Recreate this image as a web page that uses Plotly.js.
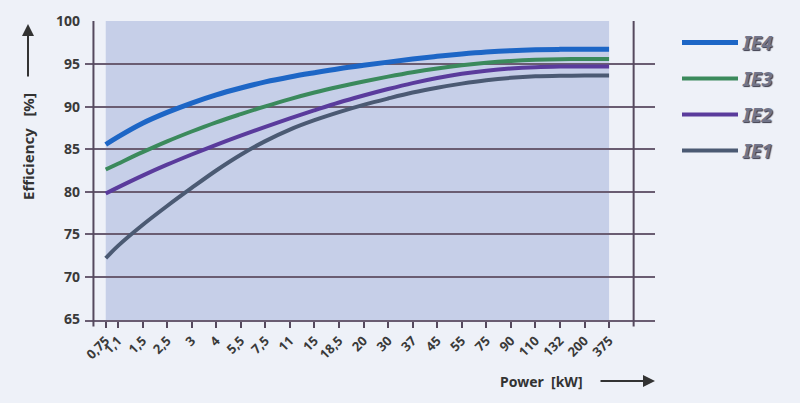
<!DOCTYPE html>
<html>
<head>
<meta charset="utf-8">
<script src="https://cdn.plot.ly/plotly-3.0.1.min.js"></script>
<style>
html,body{margin:0;padding:0;background:#eef1f8;}
#chart{width:800px;height:403px;}
</style>
</head>
<body>
<div id="chart"></div>
<script>
// Power ratings (kW) shown on the x axis
const categories = ['0,75','1,1','1,5','2,5','3','4','5,5','7,5','11','15','18,5','20','30','37','45','55','75','90','110','132','200','375'];
// Efficiency [%] per class at each power rating
const ie4 = [85.55, 86.45, 88.05, 89.32, 90.42, 91.38, 92.18, 92.9, 93.48, 93.98, 94.45, 94.85, 95.22, 95.58, 95.9, 96.17, 96.4, 96.57, 96.67, 96.72, 96.73, 96.73];
const ie3 = [82.62, 83.3, 84.65, 85.92, 87.08, 88.16, 89.12, 90.03, 90.88, 91.65, 92.33, 92.95, 93.52, 94.04, 94.48, 94.85, 95.14, 95.35, 95.49, 95.57, 95.6, 95.6];
const ie2 = [79.8, 80.52, 81.9, 83.18, 84.38, 85.52, 86.6, 87.63, 88.61, 89.56, 90.48, 91.3, 92.06, 92.76, 93.36, 93.85, 94.22, 94.48, 94.63, 94.7, 94.72, 94.72];
const ie1 = [72.2, 73.65, 76.1, 78.33, 80.45, 82.5, 84.35, 85.95, 87.3, 88.4, 89.35, 90.2, 90.95, 91.65, 92.22, 92.7, 93.1, 93.38, 93.55, 93.62, 93.64, 93.64];
const seriesNames = ['IE4', 'IE3', 'IE2', 'IE1'];
const yTicks = [65, 70, 75, 80, 85, 90, 95, 100];

// layout helpers (positions/styles)
const xPos = categories.map((c, i) => i === 0 ? 0.5 : i);
const colors = ['#1d66c6', '#3b8a5c', '#5a3b9c', '#4b5a73'];
const widths = [5, 4, 4, 4];
const allSeries = [ie4, ie3, ie2, ie1];
const gridColor = '#6a5d72';
const font = 'Noto Sans, Open Sans, sans-serif';

const traces = allSeries.map((vals, k) => ({
  type: 'scatter', mode: 'lines',
  x: xPos, y: vals, name: seriesNames[k],
  legendgroup: seriesNames[k],
  line: {color: colors[k], width: widths[k], shape: 'spline', smoothing: 1},
  hoverinfo: 'skip'
}));

const xFirst = xPos[0], xLast = xPos[xPos.length - 1];
const shapes = [
  {type: 'rect', xref: 'x', yref: 'paper', x0: xFirst, x1: xLast, y0: 0, y1: 1,
   fillcolor: '#c6cfe8', line: {width: 0}, layer: 'below'},
  {type: 'line', xref: 'x', yref: 'paper', x0: 0, x1: 0, y0: -0.022, y1: 1,
   line: {color: '#55495e', width: 2}, layer: 'above'},
  {type: 'line', xref: 'x', yref: 'paper', x0: 22, x1: 22, y0: -0.022, y1: 1,
   line: {color: '#55495e', width: 2}, layer: 'above'}
];

const layout = {
  width: 800, height: 403,
  margin: {l: 85, r: 145, t: 21, b: 83},
  paper_bgcolor: '#eef1f8',
  plot_bgcolor: 'rgba(0,0,0,0)',
  showlegend: true,
  font: {family: font, color: '#333'},
  xaxis: {
    range: [-0.344, 22.87],
    tickmode: 'array', tickvals: xPos, ticktext: categories,
    tickangle: -45, ticks: 'outside', ticklen: 6, tickwidth: 2, tickcolor: '#55495e',
    showline: true, linecolor: gridColor, linewidth: 2,
    showgrid: false, zeroline: false,
    tickfont: {family: font, size: 13, weight: 700, color: '#3a3a3a'}
  },
  yaxis: {
    range: [64.95, 100.05],
    tickmode: 'array', tickvals: yTicks,
    showgrid: true, gridcolor: gridColor, gridwidth: 2,
    zeroline: false, showline: false, ticks: '',
    ticklabelstandoff: 4,
    tickfont: {family: font, size: 14, weight: 700, color: '#3a3a3a'}
  },
  legend: {
    x: 1.0386, xanchor: 'left', y: 1 - 2 / 299, yanchor: 'top',
    bgcolor: 'rgba(0,0,0,0)',
    traceorder: 'grouped', tracegroupgap: 7,
    itemwidth: 56,
    font: {family: font, size: 20, weight: 700, style: 'italic', color: '#72758a', shadow: '1px 1px 1px #3a3a4a'}
  },
  shapes: shapes,
  annotations: [
    {xref: 'paper', yref: 'paper', x: -0.1, y: (320 - 147) / 299, text: 'Efficiency   [%]', textangle: -90,
     showarrow: false, font: {family: font, size: 15, weight: 700, color: '#333'}, xanchor: 'center', yanchor: 'middle'},
    {xref: 'paper', yref: 'paper', x: -0.1, y: 1 - (24 - 21) / 299, ax: 0, ay: 54, axref: 'pixel', ayref: 'pixel',
     text: '', showarrow: true, arrowhead: 2, arrowsize: 1.2, arrowwidth: 2, arrowcolor: '#333'},
    {xref: 'paper', yref: 'paper', x: (541 - 85) / 570, y: -(381 - 320) / 299, text: 'Power  [kW]',
     showarrow: false, font: {family: font, size: 14, weight: 700, color: '#333'}, xanchor: 'center', yanchor: 'middle'},
    {xref: 'paper', yref: 'paper', x: (655 - 85) / 570, y: -(381 - 320) / 299, ax: -56, ay: 0,
     text: '', showarrow: true, arrowhead: 2, arrowsize: 1.2, arrowwidth: 2, arrowcolor: '#333'}
  ]
};

Plotly.newPlot('chart', traces, layout, {displayModeBar: false, staticPlot: true});
</script>
</body>
</html>
